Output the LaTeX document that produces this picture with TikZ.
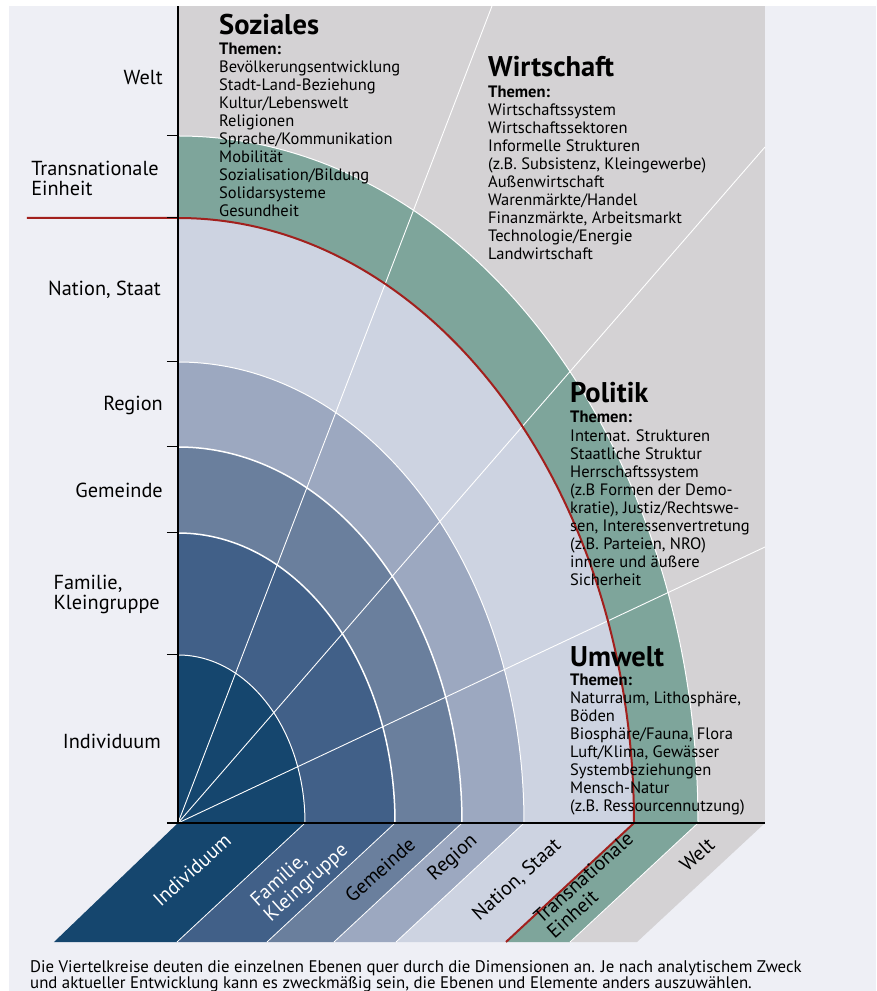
\documentclass[tikz,border=0pt]{standalone}
\usepackage{fontspec}
\setmainfont{PT Sans}
\definecolor{bgc}{HTML}{EEEFF5}
\definecolor{weltc}{HTML}{D4D2D4}
\definecolor{transc}{HTML}{7EA59B}
\definecolor{nationc}{HTML}{CDD3E1}
\definecolor{regionc}{HTML}{9CA8C0}
\definecolor{gemc}{HTML}{6A7F9D}
\definecolor{famc}{HTML}{416088}
\definecolor{indc}{HTML}{15466E}
\definecolor{redc}{HTML}{A2201D}
\begin{document}
\begin{tikzpicture}[x=1pt,y=1pt,
  ttl/.style={inner sep=0pt,anchor=base west,font=\fontsize{28.5}{30}\selectfont\bfseries},
  thm/.style={inner sep=0pt,anchor=base west,font=\fontsize{16.5}{18}\selectfont\bfseries},
  itm/.style={inner sep=0pt,anchor=base west,font=\fontsize{16.5}{18}\selectfont},
  lvl/.style={inner sep=0pt,anchor=east,align=left,font=\fontsize{20.3}{20}\selectfont},
  band/.style={inner sep=0pt,rotate=42,align=left,font=\fontsize{20}{20}\selectfont},
  ring/.style={white,line width=1pt},
  spoke/.style={white,line width=0.9pt},
  tick/.style={black,line width=1pt}]
\useasboundingbox (-178,-168) rectangle (698,823);
\fill[white] (-178,-168) rectangle (698,823);
\fill[bgc] (-169,-168) rectangle (698,817);
% Welt area
\fill[weltc] (0,0) rectangle (587,817);
% quarter ellipses
\fill[transc]  (0,0) -- (520,0) arc[start angle=0,end angle=90,x radius=520,y radius=687] -- cycle;
\fill[nationc] (0,0) -- (456,0) arc[start angle=0,end angle=90,x radius=456,y radius=605] -- cycle;
\fill[regionc] (0,0) -- (346,0) arc[start angle=0,end angle=90,x radius=346,y radius=461] -- cycle;
\fill[gemc]    (0,0) -- (284,0) arc[start angle=0,end angle=90,x radius=284,y radius=376] -- cycle;
\fill[famc]    (0,0) -- (217,0) arc[start angle=0,end angle=90,x radius=217,y radius=290] -- cycle;
\fill[indc]    (0,0) -- (127,0) arc[start angle=0,end angle=90,x radius=127,y radius=168] -- cycle;
% bottom bands
\def\sh{128}
\fill[indc]    (0,0) -- (127,0) -- (127-\sh,-119) -- (-\sh+4,-119) -- cycle;
\fill[famc]    (127,0) -- (217,0) -- (217-\sh,-119) -- (127-\sh,-119) -- cycle;
\fill[gemc]    (217,0) -- (284,0) -- (284-\sh,-119) -- (217-\sh,-119) -- cycle;
\fill[regionc] (284,0) -- (346,0) -- (346-\sh,-119) -- (284-\sh,-119) -- cycle;
\fill[nationc] (346,0) -- (456,0) -- (456-\sh,-119) -- (346-\sh,-119) -- cycle;
\fill[transc]  (456,0) -- (520,0) -- (520-\sh,-119) -- (456-\sh,-119) -- cycle;
\fill[weltc]   (520,0) -- (587,0) -- (587-\sh,-119) -- (520-\sh,-119) -- cycle;
\foreach \b in {127,217,284,346,520}
  \draw[white,line width=0.8pt] (\b,0) -- (\b-\sh,-119);
% ring boundaries
\draw[ring] (520,0) arc[start angle=0,end angle=90,x radius=520,y radius=687];
\draw[ring] (346,0) arc[start angle=0,end angle=90,x radius=346,y radius=461];
\draw[ring,line width=1.5pt] (284,0) arc[start angle=0,end angle=90,x radius=284,y radius=376];
\draw[ring,line width=1.5pt] (217,0) arc[start angle=0,end angle=90,x radius=217,y radius=290];
\draw[ring] (127,0) arc[start angle=0,end angle=90,x radius=127,y radius=168];
% spokes
\coordinate (O) at (0,0);
\coordinate (s1) at (314,817);
\coordinate (s2) at (587,676);
\coordinate (s3) at (587,276);
\draw[spoke] (O) -- (s1);
\draw[spoke] (O) -- (s2);
\draw[spoke] (O) -- (s3);
% red line
\draw[redc,line width=2pt,line join=round] (-151,605) -- (0,605) arc[start angle=90,end angle=0,x radius=456,y radius=605] -- (456-\sh,-119);
% axes
\draw[black,line width=1.2pt] (0,0) -- (0,817);
\draw[black,line width=1.3pt] (-11,0) -- (587,0);
\foreach \t in {168,290,376,461,605,687}
  \draw[tick] (-11,\t) -- (0,\t);
% level labels
\node[lvl] (l-welt) at (-15,745) {Welt};
\node[lvl] (l-trans) at (-19,645) {Transnationale\\Einheit};
\node[lvl] (l-nat) at (-17,533) {Nation, Staat};
\node[lvl] (l-reg) at (-15,418) {Region};
\node[lvl] (l-gem) at (-15,333) {Gemeinde};
\node[lvl] (l-fam) at (-18,229) {Familie,\\Kleingruppe};
\node[lvl] (l-ind) at (-17,82) {Individuum};
% band labels
\node[band,white] (b-ind) at (14,-47) {Individuum};
\node[band,white] (b-fam) at (122,-53) {Familie,\\Kleingruppe};
\node[band] (b-gem) at (202,-47) {Gemeinde};
\node[band] (b-reg) at (275,-35) {Region};
\node[band] (b-nat) at (339,-57) {Nation, Staat};
\node[band] (b-trans) at (412,-62) {Transnationale\\Einheit};
\node[band] (b-welt) at (519,-32) {Welt};
% Soziales
\node[ttl] (soz) at (41,788) {Soziales};
\node[thm] (soz-th) at (41,768) {Themen:};
\foreach \t [count=\i from 0] in {{Bevölkerungsentwicklung},{Stadt-Land-Beziehung},{Kultur/Lebenswelt},{Religionen},{Sprache/Kommunikation},{Mobilität},{Sozialisation/Bildung},{Solidarsysteme},{Gesundheit}}
  \node[itm] (soz-\i) at (41,750-18*\i) {\t};
% Wirtschaft
\node[ttl] (wir) at (310,746) {Wirtschaft};
\node[thm] (wir-th) at (310,725) {Themen:};
\foreach \t [count=\i from 0] in {{Wirtschaftssystem},{Wirtschaftssektoren},{Informelle Strukturen},{(z.B. Subsistenz, Kleingewerbe)},{Außenwirtschaft},{Warenmärkte/Handel},{Finanzmärkte, Arbeitsmarkt},{Technologie/Energie},{Landwirtschaft}}
  \node[itm] (wir-\i) at (310,707-18*\i) {\t};
% Politik
\node[ttl] (pol) at (392,420) {Politik};
\node[thm] (pol-th) at (392,400) {Themen:};
\foreach \t [count=\i from 0] in {{Internat. Strukturen},{Staatliche Struktur},{Herrschaftssystem},{(z.B Formen der Demo-},{kratie), Justiz/Rechtswe-},{sen, Interessenvertretung},{(z.B. Parteien, NRO)},{innere und äußere},{Sicherheit}}
  \node[itm] (pol-\i) at (392,381-18*\i) {\t};
% Umwelt
\node[ttl] (umw) at (392,156) {Umwelt};
\node[thm] (umw-th) at (392,137) {Themen:};
\foreach \t [count=\i from 0] in {{Naturraum, Lithosphäre,},{Böden},{Biosphäre/Fauna, Flora},{Luft/Klima, Gewässer},{Systembeziehungen},{Mensch-Natur},{(z.B. Ressourcennutzung)}}
  \node[itm] (umw-\i) at (392,119-18*\i) {\t};
% caption
\node[inner sep=0pt,anchor=base west,font=\fontsize{16.8}{16}\selectfont] (cap1) at (-148,-149) {Die Viertelkreise deuten die einzelnen Ebenen quer durch die Dimensionen an. Je nach analytischem Zweck};
\node[inner sep=0pt,anchor=base west,font=\fontsize{16.8}{16}\selectfont] (cap2) at (-148,-165) {und aktueller Entwicklung kann es zweckmäßig sein, die Ebenen und Elemente anders auszuwählen.};
\end{tikzpicture}
\end{document}
